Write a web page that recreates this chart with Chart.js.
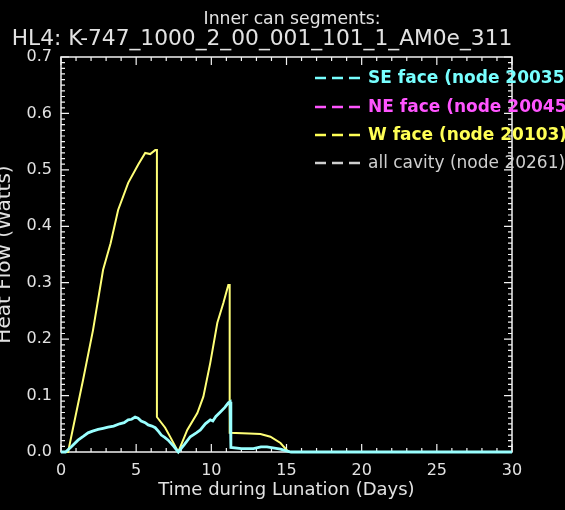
<!DOCTYPE html>
<html><head><meta charset="utf-8">
<script src="https://cdn.jsdelivr.net/npm/chart.js@4/dist/chart.umd.min.js"></script>
<style>html,body{margin:0;padding:0;background:#000;overflow:hidden}</style>
</head><body>
<canvas id="c" width="565" height="510"></canvas>
<script>
// ---- text ----
const titleLine1 = "Inner can segments:";
const titleLine2 = "HL4: K-747_1000_2_00_001_101_1_AM0e_311";
const xTitle = "Time during Lunation (Days)";
const yTitle = "Heat Flow (Watts)";
const legendLabels = ["SE face (node 20035)", "NE face (node 20045)", "W face (node 20103)", "all cavity (node 20261)"];

// ---- data (days, watts) ----
const seDays = [0, 0.3, 0.67, 1.13, 1.5, 1.8, 2.1, 2.47, 2.8, 3.13, 3.5, 3.9, 4.2, 4.47, 4.7, 4.93, 5.13, 5.33, 5.6, 5.8, 6.05, 6.27, 6.5, 6.67, 6.9, 7.13, 7.5, 7.8, 8.2, 8.6, 9.0, 9.27, 9.6, 9.93, 10.1, 10.3, 10.6, 10.9, 11.13, 11.25, 11.3, 12.0, 12.8, 13.3, 13.7, 14.2, 14.6, 15.0, 15.3, 30];
const seFlow = [0, 0, 0.009, 0.021, 0.028, 0.034, 0.037, 0.040, 0.042, 0.044, 0.046, 0.050, 0.052, 0.057, 0.058, 0.062, 0.060, 0.055, 0.052, 0.048, 0.046, 0.043, 0.036, 0.030, 0.026, 0.021, 0.010, 0, 0.013, 0.027, 0.034, 0.039, 0.050, 0.057, 0.055, 0.063, 0.071, 0.079, 0.087, 0.089, 0.008, 0.006, 0.006, 0.009, 0.009, 0.007, 0.005, 0.002, 0, 0];
const neDays = [0, 30];
const neFlow = [0, 0];
const wDays = [0, 0.47, 1.47, 2.13, 2.8, 3.3, 3.8, 4.47, 5.13, 5.6, 5.93, 6.27, 6.38, 6.38, 6.93, 7.3, 7.8, 8.4, 9.07, 9.47, 9.93, 10.4, 10.8, 11.13, 11.22, 11.22, 12.5, 13.27, 13.93, 14.6, 15.07, 15.2, 30];
const wFlow = [0, 0, 0.128, 0.216, 0.323, 0.370, 0.429, 0.477, 0.509, 0.530, 0.528, 0.535, 0.535, 0.062, 0.043, 0.025, 0, 0.039, 0.069, 0.098, 0.158, 0.229, 0.264, 0.296, 0.296, 0.034, 0.033, 0.032, 0.027, 0.016, 0.002, 0, 0];
const cavDays = [0, 30];
const cavFlow = [0, 0];

const seriesColors = ["#99ffff", "#ff66ff", "#ffff77", "#d0d0d0"];
const legendColors = ["#77ffff", "#ff55ff", "#ffff55", "#cfcfcf"];
const textColor = "#e2e2e2";

const pts = (xs, ys) => xs.map((x, i) => ({x, y: ys[i]}));

const frameTicks = {
  id: 'frameTicks',
  beforeDatasetsDraw(chart) {
    const {ctx, chartArea: a, scales: {x, y}} = chart;
    ctx.save();
    ctx.strokeStyle = "#f2f2f2";
    ctx.lineWidth = 1.5;
    ctx.strokeRect(a.left, a.top, a.right - a.left, a.bottom - a.top);
    ctx.lineWidth = 1.2;
    ctx.beginPath();
    for (let d = 0; d <= 30; d++) {
      const px = x.getPixelForValue(d);
      const len = d % 5 === 0 ? 8 : 4;
      ctx.moveTo(px, a.bottom); ctx.lineTo(px, a.bottom - len);
      ctx.moveTo(px, a.top); ctx.lineTo(px, a.top + len);
    }
    for (let k = 0; k <= 70; k++) {
      const py = y.getPixelForValue(k / 100);
      const len = k % 10 === 0 ? 8 : 4;
      ctx.moveTo(a.left, py); ctx.lineTo(a.left + len, py);
      ctx.moveTo(a.right, py); ctx.lineTo(a.right - len, py);
    }
    ctx.stroke();
    ctx.restore();
  }
};

function fitFont(ctx, text, width, weight) {
  let s = 20;
  ctx.font = `${weight} ${s}px "DejaVu Sans"`;
  const w = ctx.measureText(text).width;
  return s * width / w;
}

const overlay = {
  id: 'overlay',
  afterDraw(chart) {
    const {ctx} = chart;
    ctx.save();
    ctx.fillStyle = textColor;
    ctx.textAlign = 'center';
    ctx.textBaseline = 'middle';
    let s1 = fitFont(ctx, titleLine1, 177, 'normal');
    ctx.font = `normal ${s1}px "DejaVu Sans"`;
    ctx.fillText(titleLine1, 292, 20);
    let s2 = fitFont(ctx, titleLine2, 501, 'normal');
    ctx.font = `normal ${s2}px "DejaVu Sans"`;
    ctx.fillText(titleLine2, 262, 39);
    // legend
    const rowY = [78, 107, 135, 163];
    ctx.textAlign = 'left';
    legendLabels.forEach((t, i) => {
      ctx.strokeStyle = legendColors[i];
      ctx.lineWidth = 2.5;
      ctx.setLineDash([11, 6]);
      ctx.beginPath();
      ctx.moveTo(315, rowY[i]); ctx.lineTo(360, rowY[i]);
      ctx.stroke();
      ctx.setLineDash([]);
      ctx.fillStyle = legendColors[i];
      ctx.font = (i < 3 ? 'bold' : 'normal') + ' 17px "DejaVu Sans"';
      ctx.fillText(t, 368, rowY[i] + 1);
    });
    ctx.restore();
  }
};

new Chart(document.getElementById('c'), {
  type: 'line',
  data: {
    datasets: [
      {label: legendLabels[0], data: pts(seDays, seFlow), borderColor: seriesColors[0], borderWidth: 2.8},
      {label: legendLabels[2], data: pts(wDays, wFlow), borderColor: seriesColors[2], borderWidth: 2},
      {label: legendLabels[1], data: pts(neDays, neFlow), borderColor: seriesColors[1], borderWidth: 1.5, hidden: true},
      {label: legendLabels[3], data: pts(cavDays, cavFlow), borderColor: seriesColors[3], borderWidth: 1.5, hidden: true}
    ].map(d => Object.assign(d, {pointRadius: 0, tension: 0, fill: false, clip: 6}))
  },
  options: {
    responsive: false,
    animation: false,
    devicePixelRatio: 1,
    layout: {padding: {left: 0, right: 53, top: 57, bottom: 0}},
    plugins: {legend: {display: false}, title: {display: false}, tooltip: {enabled: false}},
    scales: {
      x: {
        type: 'linear', min: 0, max: 30,
        afterFit: s => { s.height = 58; },
        grid: {display: false, drawTicks: false},
        border: {display: false},
        ticks: {stepSize: 5, color: textColor, padding: 9, font: {family: 'DejaVu Sans', size: 16}, maxRotation: 0},
        title: {display: true, text: xTitle, color: textColor, font: {family: 'DejaVu Sans', size: 18}, padding: {top: 0, bottom: 9}}
      },
      y: {
        type: 'linear', min: 0, max: 0.7,
        afterFit: s => { s.width = 61; },
        grid: {display: false, drawTicks: false},
        border: {display: false},
        ticks: {stepSize: 0.1, color: textColor, padding: 9, font: {family: 'DejaVu Sans', size: 16}, callback: v => v.toFixed(1)},
        title: {display: true, text: yTitle, color: textColor, font: {family: 'DejaVu Sans', size: 20}, padding: {top: -7, bottom: 0}}
      }
    }
  },
  plugins: [frameTicks, overlay]
});
</script>
</body></html>
